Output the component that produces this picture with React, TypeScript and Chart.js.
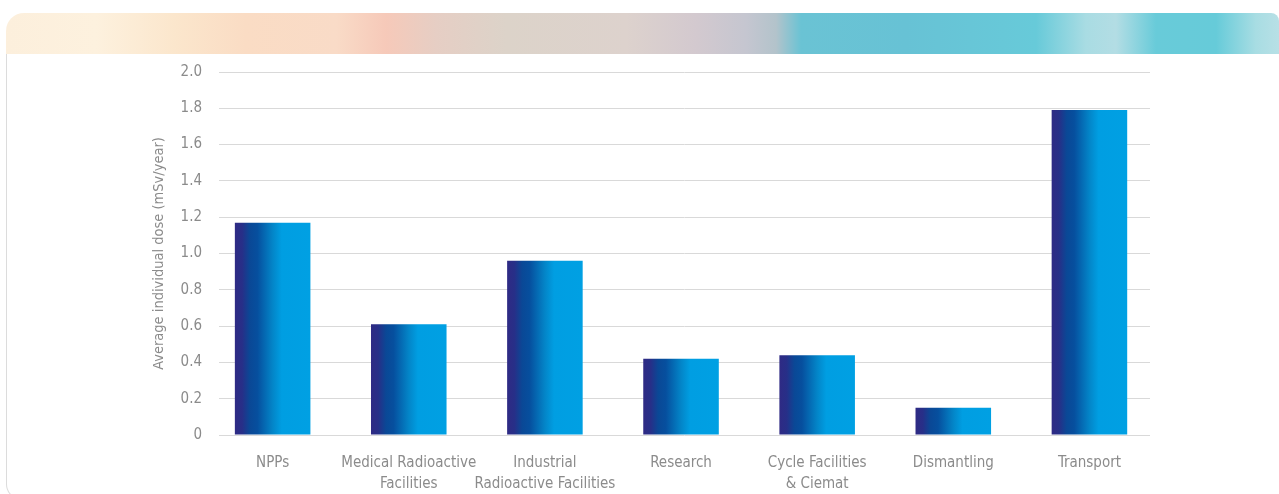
import React, { useEffect, useRef } from "react";
import { Chart, registerables } from "chart.js";

Chart.register(...registerables);

const categories: (string | string[])[] = [
  "NPPs",
  ["Medical Radioactive", "Facilities"],
  ["Industrial", "Radioactive Facilities"],
  "Research",
  ["Cycle Facilities", "& Ciemat"],
  "Dismantling",
  "Transport",
];
const doseValues = [1.17, 0.61, 0.96, 0.42, 0.44, 0.15, 1.79];
const yTickMin = 0;
const yTickMax = 2;
const yTickStep = 0.2;
const yTitle = "Average individual dose (mSv/year)";

const FONT = "'Liberation Sans Narrow', 'DejaVu Sans Condensed', 'Arial Narrow', sans-serif";
const TEXT = "#8b8b8b";

export default function App() {
  const ref = useRef<HTMLCanvasElement | null>(null);

  useEffect(() => {
    const canvas = ref.current;
    if (!canvas) return;
    const points = doseValues.map((v, i) => ({ x: i, y: v }));
    const chart = new Chart(canvas, {
      type: "bar",
      data: {
        datasets: [
          {
            data: points,
            categoryPercentage: 1,
            barPercentage: 0.555,
            borderWidth: 0,
            backgroundColor: (ctx: any) => {
              const c = ctx.chart;
              const xs = c.scales?.x;
              if (!xs || ctx.dataIndex === undefined) return "#009fe3";
              const px = xs.getPixelForValue(ctx.dataIndex);
              if (!Number.isFinite(px)) return "#009fe3";
              const half = 38;
              const g = c.ctx.createLinearGradient(px - half, 0, px + half, 0);
              g.addColorStop(0, "#2f2a84");
              g.addColorStop(0.1, "#272f88");
              g.addColorStop(0.2, "#0a4896");
              g.addColorStop(0.3, "#064f9e");
              g.addColorStop(0.5, "#0385c8");
              g.addColorStop(0.62, "#009ee2");
              g.addColorStop(1, "#00a0e3");
              return g;
            },
          },
        ],
      },
      options: {
        animation: false,
        responsive: false,
        maintainAspectRatio: false,
        layout: { autoPadding: false, padding: { top: 18, right: 129, left: 0, bottom: 0 } },
        plugins: { legend: { display: false }, tooltip: { enabled: false } },
        scales: {
          x: {
            type: "linear",
            offset: false,
            min: -0.394,
            max: 6.445,
            afterFit: (s: any) => {
              s.height = 59;
              s.paddingLeft = 0;
              s.paddingRight = 0;
            },
            grid: { display: false, offset: false },
            border: { display: false },
            ticks: {
              stepSize: 1,
              includeBounds: false,
              autoSkip: false,
              maxRotation: 0,
              minRotation: 0,
              padding: 9,
              color: TEXT,
              font: { family: FONT, size: 15, lineHeight: 1.43 },
              callback: (v: any) => {
                const n = Number(v);
                if (Number.isInteger(n) && n >= 0 && n < categories.length) return categories[n];
                return "";
              },
            },
          },
          y: {
            min: yTickMin,
            max: yTickMax,
            afterFit: (s: any) => {
              s.width = 219;
              s.paddingTop = 0;
              s.paddingBottom = 0;
            },
            grid: { color: "#d9d9d9", lineWidth: 1, drawTicks: false },
            border: { display: false },
            ticks: {
              stepSize: yTickStep,
              padding: 17,
              color: TEXT,
              font: { family: FONT, size: 15 },
              callback: (v: any) => {
                const n = Number(v);
                return Math.abs(n) < 1e-9 ? "0" : n.toFixed(1);
              },
            },
            title: {
              display: true,
              text: yTitle,
              color: TEXT,
              font: { family: FONT, size: 14.5 },
              padding: { top: 151, bottom: 0 },
            },
          },
        },
      },
    });
    return () => chart.destroy();
  }, []);

  return (
    <div style={{ position: "fixed", left: 0, top: 0, width: 1279, height: 494, background: "#ffffff", overflow: "hidden" }}>
      <div
        style={{
          position: "absolute",
          left: 6,
          top: 13,
          width: 1273,
          height: 41,
          borderTopLeftRadius: 18,
          borderTopRightRadius: 8,
          background:
            "linear-gradient(90deg, #fcefdc 0px, #fdf1de 90px, #fbe6cc 170px, #fadcc4 240px, #f9dbc7 330px, #f6c9b9 380px, #e6cec4 430px, #dcd3c9 500px, #ddd2cd 620px, #d3c9cf 690px, #c5c6d0 740px, #b3c3cb 770px, #6ac3d4 795px, #67c2d5 900px, #67cad9 1030px, #a9dce3 1080px, #b3dde4 1110px, #68cbd9 1150px, #66cbd9 1210px, #a8dde3 1250px, #b8e0e6 1273px)",
        }}
      />
      <div
        style={{
          position: "absolute",
          left: 6,
          top: 54,
          width: 1300,
          height: 445,
          borderLeft: "1.5px solid #dcdcdc",
          borderBottom: "1.5px solid #dcdcdc",
          borderBottomLeftRadius: 16,
        }}
      />
      <canvas ref={ref} width={1279} height={440} style={{ position: "absolute", left: 0, top: 54, width: 1279, height: 440 }} />
    </div>
  );
}
